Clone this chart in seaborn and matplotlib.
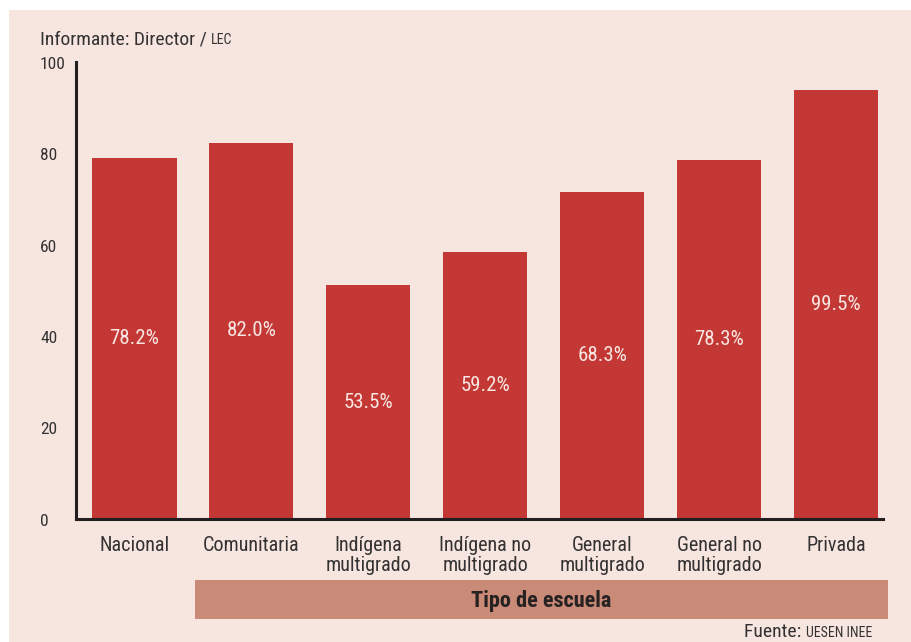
import matplotlib
matplotlib.use('Agg')
import matplotlib.pyplot as plt
import seaborn as sns
import pandas as pd
from matplotlib.patches import Rectangle

# values
categories = ['Nacional', 'Comunitaria', 'Indígena\nmultigrado', 'Indígena no\nmultigrado',
              'General\nmultigrado', 'General no\nmultigrado', 'Privada']
bar_heights = [79.0, 82.3, 51.2, 58.4, 71.6, 78.6, 93.9]
value_labels = ['78.2%', '82.0%', '53.5%', '59.2%', '68.3%', '78.3%', '99.5%']
y_ticks = [0, 20, 40, 60, 80, 100]

bg = '#f7e6e0'
bar_color = '#c33734'
band_color = '#c98a78'
text_color = '#333131'
axis_color = '#231f20'

sns.set_style('white')
plt.rcParams['font.family'] = ['Roboto Condensed', 'DejaVu Sans']

df = pd.DataFrame({'tipo': categories, 'valor': bar_heights})

fig = plt.figure(figsize=(9.12, 6.42), dpi=100, facecolor='white')
fig.patches.append(Rectangle((9 / 912, 0), 1, 1 - 10 / 642, transform=fig.transFigure,
                             facecolor=bg, edgecolor='none', zorder=-10))
ax = fig.add_axes([76 / 912, 123 / 642, (894.5 - 76) / 912, (519 - 62) / 642])
ax.set_facecolor('none')

sns.barplot(data=df, x='tipo', y='valor', color=bar_color, width=0.72,
            saturation=1, linewidth=0, ax=ax)

ax.set_xlim(-0.5, 6.5)
ax.set_ylim(0, 100)
ax.set_xlabel('')
ax.set_ylabel('')

# value labels in the middle of each bar
for i, (h, lab) in enumerate(zip(bar_heights, value_labels)):
    ax.text(i, h / 2, lab, ha='center', va='center', fontsize=15, color='#f8e6e2')

# spines
for s in ['top', 'right']:
    ax.spines[s].set_visible(False)
for s in ['left', 'bottom']:
    ax.spines[s].set_color(axis_color)
    ax.spines[s].set_linewidth(2.2)
ax.spines['bottom'].set_bounds(-0.5, 6.4)

# y ticks, labels drawn by hand so they can be left aligned
ax.set_yticks(y_ticks)
ax.set_yticklabels([])
ax.tick_params(axis='y', direction='in', length=6, width=2.2, color=axis_color)
ytrans = ax.get_yaxis_transform()
for t in y_ticks:
    ax.text(-36 / 818.5, t - 0.5, str(t), transform=ytrans, ha='left', va='center',
            fontsize=12.5, color=text_color)

# x ticks: labels at centers, marks between categories
ax.set_xticks(range(len(categories)))
ax.set_xticklabels(categories, linespacing=1.1)
ax.tick_params(axis='x', which='major', length=0, labelsize=14.5, labelcolor=text_color, pad=12)
ax.set_xticks([i + 0.5 for i in range(len(categories) - 1)], minor=True)
ax.tick_params(axis='x', which='minor', direction='in', length=9, width=2.2, color=axis_color)

# title
fig.canvas.draw()
r = fig.canvas.get_renderer()
t1 = fig.text(40 / 912, 1 - 39 / 642, 'Informante: Director / ', fontsize=14,
              color=text_color, ha='left', va='center')
bb = t1.get_window_extent(renderer=r)
fig.text(bb.x1 / 912, 1 - 40 / 642, 'LEC', fontsize=10, color=text_color,
         ha='left', va='center')

# band with axis title
fig.patches.append(Rectangle((195 / 912, 1 - 619 / 642), (888 - 195) / 912, 39 / 642,
                             transform=fig.transFigure, facecolor=band_color,
                             edgecolor='none', zorder=-5))
fig.text(541 / 912, 1 - 601 / 642, 'Tipo de escuela', fontsize=16, fontweight='bold',
         color='#262222', ha='center', va='center')

# source
t2 = fig.text(872 / 912, 1 - 633 / 642, 'UESEN INEE', fontsize=10, color=text_color,
              ha='right', va='center')
bb2 = t2.get_window_extent(renderer=r)
fig.text(bb2.x0 / 912, 1 - 632 / 642, 'Fuente: ', fontsize=14, color=text_color,
         ha='right', va='center')

fig.savefig('out.png', dpi=100, facecolor='white')
